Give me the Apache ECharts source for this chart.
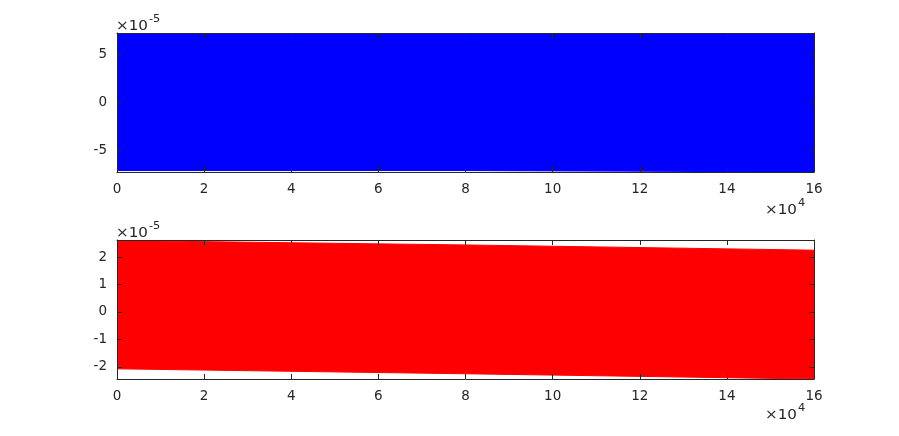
<!DOCTYPE html>
<html>
<head>
<meta charset="utf-8">
<script src="https://cdn.jsdelivr.net/npm/echarts@6/dist/echarts.min.js"></script>
<style>html,body{margin:0;padding:0;background:#fff;}#c{width:899px;height:436px;}</style>
</head>
<body>
<div id="c"></div>
<script>
// Envelope of the dense oscillations
const xPoints = [0, 80000, 160000];
const topUpper = [7.15e-5, 7.15e-5, 7.15e-5];
const topLower = [-7.1e-5, -7.1e-5, -7.1e-5];
const botUpper = [2.6e-5, 2.44e-5, 2.25e-5];
const botLower = [-2.07e-5, -2.25e-5, -2.44e-5];
const xTicks = [0, 20000, 40000, 60000, 80000, 100000, 120000, 140000, 160000];
const topYTicks = [-5e-5, 0, 5e-5];
const botYTicks = [-2e-5, -1e-5, 0, 1e-5, 2e-5];
const topYRange = [-7.25e-5, 7.25e-5];
const botYRange = [-2.44e-5, 2.62e-5];

const font = 'DejaVu Sans, Liberation Sans, Arial, sans-serif';
const axisColor = '#262626';
const textColor = '#262626';
const labelSize = 13.5;
function pairs(xs, ys) { return xs.map((x, i) => [x, ys[i]]); }
function line() { return { show: true, onZero: false, lineStyle: { color: axisColor, width: 1 } }; }
function xAxis(gi, pos) {
  return {
    type: 'value', gridIndex: gi, min: 0, max: 160000, position: pos,
    axisLine: line(),
    axisTick: { show: true, inside: true, length: 5, customValues: xTicks, lineStyle: { color: axisColor } },
    axisLabel: { show: pos === 'bottom', customValues: xTicks, color: textColor, fontFamily: font, fontSize: labelSize, margin: 10,
      formatter: v => String(Math.round(v / 1e4)) },
    splitLine: { show: false }, z: 5
  };
}
function yAxis(gi, range, ticks, pos) {
  return {
    type: 'value', gridIndex: gi, min: range[0], max: range[1], position: pos,
    axisLine: line(),
    axisTick: { show: true, inside: true, length: 5, customValues: ticks, lineStyle: { color: axisColor } },
    axisLabel: { show: pos === 'left', customValues: ticks, color: textColor, fontFamily: font, fontSize: labelSize, margin: 10,
      formatter: v => String(Math.round(v / 1e-5)) },
    splitLine: { show: false }, z: 5
  };
}
// upper edge filled down to the axis minimum, lower edge masked in white below it
function bandTop(gi, ys, color) {
  return {
    type: 'line', xAxisIndex: gi * 2, yAxisIndex: gi * 2, data: pairs(xPoints, ys),
    symbol: 'none', silent: true, z: 1,
    lineStyle: { width: 1, color: color },
    areaStyle: { color: color, opacity: 1, origin: 'start' }
  };
}
function bandBottom(gi, ys, color) {
  return {
    type: 'line', xAxisIndex: gi * 2, yAxisIndex: gi * 2, data: pairs(xPoints, ys),
    symbol: 'none', silent: true, z: 2,
    lineStyle: { width: 1, color: color },
    areaStyle: { color: '#ffffff', opacity: 1, origin: 'start' }
  };
}
function txt(x, y, s, size) {
  return { type: 'text', x: x, y: y, scaleX: 1.08, z: 10,
    style: { text: s, fontSize: size, fontFamily: font, fill: textColor, verticalAlign: 'middle', align: 'left' } };
}
const option = {
  animation: false,
  backgroundColor: '#fff',
  grid: [
    { left: 117, right: 85, top: 33, height: 139 },
    { left: 117, right: 85, top: 240, height: 139 }
  ],
  xAxis: [xAxis(0, 'bottom'), xAxis(0, 'top'), xAxis(1, 'bottom'), xAxis(1, 'top')],
  yAxis: [yAxis(0, topYRange, topYTicks, 'left'), yAxis(0, topYRange, topYTicks, 'right'),
          yAxis(1, botYRange, botYTicks, 'left'), yAxis(1, botYRange, botYTicks, 'right')],
  series: [
    bandTop(0, topUpper, '#0000ff'), bandBottom(0, topLower, '#0000ff'),
    bandTop(1, botUpper, '#ff0000'), bandBottom(1, botLower, '#ff0000')
  ],
  graphic: [
    txt(116, 26, '×10', 14), txt(149, 19.5, '-5', 10.5),
    txt(116, 233, '×10', 14), txt(149, 226.5, '-5', 10.5),
    txt(765, 210, '×10', 14), txt(798, 203.5, '4', 10.5),
    txt(765, 415, '×10', 14), txt(798, 408.5, '4', 10.5)
  ]
};
const chart = echarts.init(document.getElementById('c'), null, { renderer: 'canvas' });
chart.setOption(option);
</script>
</body>
</html>
